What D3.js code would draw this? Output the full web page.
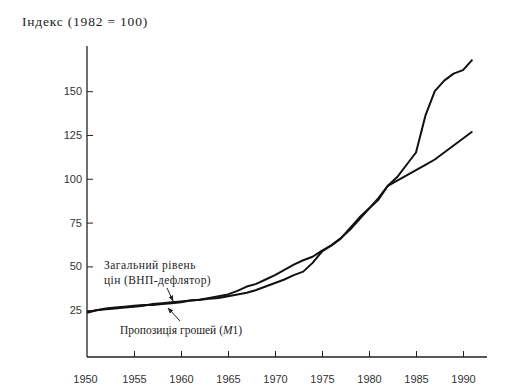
<!DOCTYPE html>
<html>
<head>
<meta charset="utf-8">
<script src="https://cdn.jsdelivr.net/npm/d3@7"></script>
<style>
  body { margin: 0; background: #fff; }
  .axis text { font-family: "Liberation Sans", Arial, sans-serif; font-size: 11px; fill: #333; }
  .axis line { stroke: #222; }
  .lbl { font-family: "Liberation Serif", "DejaVu Serif", serif; font-size: 11.5px; fill: #222; }
</style>
</head>
<body>
<svg width="513" height="386"></svg>
<script>
var years = d3.range(1950, 1992);
// Пропозиція грошей (M1), 1982 = 100
var moneySupply = [24, 25, 26, 26.5, 27, 27.5, 28, 28, 28.5, 29, 29.5, 30.5, 31, 32, 33, 34,
  36, 38.5, 40, 42.5, 45, 48, 51, 53.5, 55.5, 59, 62, 66, 72, 78, 83, 88, 96,
  101, 108, 115, 136, 150, 156, 160, 162, 168];
// Загальний рівень цін (ВНП-дефлятор), 1982 = 100
var priceLevel = [23.5, 25, 25.5, 26, 26.5, 27, 27.5, 28.5, 29, 29.5, 30, 30.5, 31, 31.5, 32, 33,
  34, 35, 36.5, 38.5, 40.5, 42.5, 45, 47, 52, 58.5, 62, 66, 71, 77, 83, 89, 96,
  99, 102, 105, 108, 111, 115, 119, 123, 127];
var yTicks = [25, 50, 75, 100, 125, 150];
var xTicks = [1950, 1955, 1960, 1965, 1970, 1975, 1980, 1985, 1990];

var svg = d3.select('svg');

var xScale = d3.scaleLinear()
        .domain([1950, 1992.5])
        .range([87, 486.5]);

var yScale = d3.scaleLinear()
        .domain([0, 176])
        .range([354, 45.6]);

var axisY = 357;

// title
svg.append('text')
    .attr('class', 'lbl')
    .attr('x', 22)
    .attr('y', 26)
    .style('font-size', '13.5px')
    .style('letter-spacing', '0.8px')
    .text('Індекс (1982 = 100)');

// y axis
var gy = svg.append('g')
    .attr('class', 'axis')
    .attr('transform', 'translate(87,0)')
    .call(d3.axisLeft(yScale).tickValues(yTicks).tickSizeInner(-6).tickSizeOuter(0).tickPadding(5));
gy.select('.domain').remove();
svg.append('line')
    .attr('x1', 87).attr('x2', 87)
    .attr('y1', 46).attr('y2', axisY)
    .attr('stroke', '#222').attr('stroke-width', 1.3);

// x axis
var gx = svg.append('g')
    .attr('class', 'axis')
    .attr('transform', 'translate(0,' + axisY + ')')
    .call(d3.axisBottom(xScale).tickValues(xTicks).tickFormat(d3.format('d')).tickSizeInner(-6).tickSizeOuter(0).tickPadding(18));
gx.select('.domain').remove();
gx.selectAll('.tick').filter(d => d === 1950).select('line').remove();
gx.selectAll('.tick').filter(d => d === 1950).select('text').attr('dx', -2);
svg.append('line')
    .attr('x1', 87).attr('x2', 487)
    .attr('y1', axisY).attr('y2', axisY)
    .attr('stroke', '#222').attr('stroke-width', 1.3);

var line = d3.line()
    .x((d, i) => xScale(years[i]))
    .y(d => yScale(d));

[moneySupply, priceLevel].forEach(function (s) {
  svg.append('path')
      .datum(s)
      .attr('d', line)
      .attr('fill', 'none')
      .attr('stroke', '#111')
      .attr('stroke-width', 2)
      .attr('stroke-linejoin', 'round');
});

// annotations
var defs = svg.append('defs');
defs.append('marker')
    .attr('id', 'arr')
    .attr('viewBox', '0 0 10 10')
    .attr('refX', 9).attr('refY', 5)
    .attr('markerWidth', 6).attr('markerHeight', 6)
    .attr('orient', 'auto')
  .append('path')
    .attr('d', 'M0,1 L10,5 L0,9 z')
    .attr('fill', '#222');

svg.append('text').attr('class', 'lbl').attr('x', 104).attr('y', 269).style('letter-spacing', '0.5px').text('Загальний рівень');
svg.append('text').attr('class', 'lbl').attr('x', 104).attr('y', 284).style('letter-spacing', '0.4px').text('цін (ВНП-дефлятор)');
var t = svg.append('text').attr('class', 'lbl').attr('x', 120).attr('y', 334);
t.append('tspan').text('Пропозиція грошей (');
t.append('tspan').style('font-style', 'italic').text('M');
t.append('tspan').text('1)');

svg.append('line')
    .attr('x1', 167).attr('y1', 288)
    .attr('x2', 173).attr('y2', 301)
    .attr('stroke', '#222').attr('stroke-width', 1)
    .attr('marker-end', 'url(#arr)');
svg.append('line')
    .attr('x1', 180).attr('y1', 321)
    .attr('x2', 168).attr('y2', 308)
    .attr('stroke', '#222').attr('stroke-width', 1)
    .attr('marker-end', 'url(#arr)');
</script>
</body>
</html>
